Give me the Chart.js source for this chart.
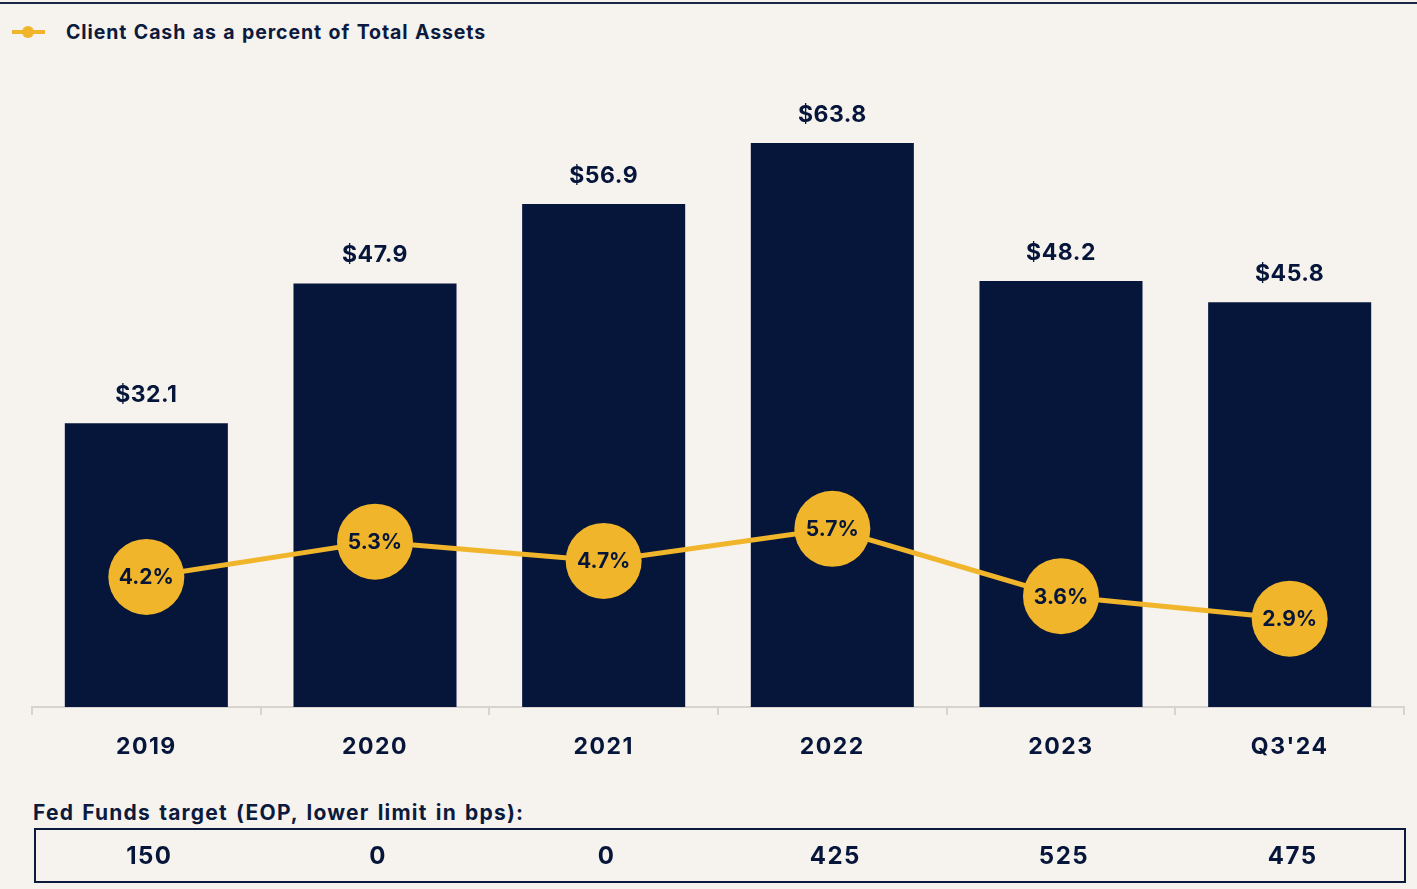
<!DOCTYPE html>
<html>
<head>
<meta charset="utf-8">
<script src="https://cdn.jsdelivr.net/npm/chart.js@4.4.0/dist/chart.umd.min.js"></script>
<style>
  body { margin: 0; background: #f6f2ee; font-family: Inter, "Open Sans", sans-serif; }
  #wrap { position: relative; width: 1417px; height: 889px; overflow: hidden; }
  #topline { position: absolute; left: 0; top: 2px; width: 1417px; height: 2px; background: #1c2747; }
  #legend { position: absolute; left: 12px; top: 20px; height: 24px; display: flex; align-items: center;
    font-weight: 700; font-size: 19.5px; letter-spacing: 0.9px; word-spacing: 1px; color: #0b1a3d; }
  #legend .mk { position: relative; width: 33px; height: 4px; background: #f0b52b; margin-right: 21px; }
  #legend .mk:after { content: ""; position: absolute; left: 10px; top: -4px; width: 12px; height: 12px;
    border-radius: 50%; background: #f0b52b; }
  #fedlabel { position: absolute; left: 33px; top: 800px; font-weight: 700; font-size: 21px;
    letter-spacing: 1.2px; word-spacing: 2px; color: #0b1a3d; }
  canvas { position: absolute; left: 0; top: 0; }
</style>
</head>
<body>
<div id="wrap">
  <div id="topline"></div>
  <div id="legend"><span class="mk"></span>Client Cash as a percent of Total Assets</div>
  <div id="fedlabel">Fed Funds target (EOP, lower limit in bps):</div>
  <canvas id="myChart" width="1417" height="889"></canvas>
</div>
<script>
// data
const categories = ['2019', '2020', '2021', '2022', '2023', "Q3'24"];
const clientCash = [32.1, 47.9, 56.9, 63.8, 48.2, 45.8];     // $bn, bars
const cashPercent = [4.2, 5.3, 4.7, 5.7, 3.6, 2.9];          // % of total assets, line
const fedFunds = [150, 0, 0, 425, 525, 475];                 // bps, table row

const navy = '#06163a';
const yellow = '#f0b52b';
const fontFam = 'Inter, "Open Sans", sans-serif';

// labels above bars, inside circles, and the fed funds row
const labelPlugin = {
  id: 'labels',
  beforeDraw(chart) {
    // reference type is a bit more open than Inter
    chart.ctx.letterSpacing = '1.5px';
  },
  afterDatasetsDraw(chart) {
    const ctx = chart.ctx;
    ctx.save();
    ctx.fillStyle = navy;
    ctx.textAlign = 'center';
    ctx.textBaseline = 'middle';

    // bar values
    ctx.letterSpacing = '0.5px';
    ctx.font = 'bold 23px ' + fontFam;
    chart.getDatasetMeta(1).data.forEach((bar, i) => {
      ctx.fillText('$' + clientCash[i].toFixed(1), bar.x, bar.y - 28);
    });

    // percents inside the circles
    ctx.letterSpacing = '0px';
    ctx.font = 'bold 21px ' + fontFam;
    chart.getDatasetMeta(0).data.forEach((pt, i) => {
      ctx.fillText(cashPercent[i].toFixed(1) + '%', pt.x, pt.y + 1);
    });
    ctx.restore();
  },
  afterDraw(chart) {
    const ctx = chart.ctx;
    const x = chart.scales.x;
    ctx.save();
    ctx.strokeStyle = '#0b1a3d';
    ctx.lineWidth = 2;
    ctx.strokeRect(35, 829, 1370, 53);
    ctx.fillStyle = navy;
    ctx.textAlign = 'center';
    ctx.textBaseline = 'middle';
    ctx.letterSpacing = '1.5px';
    ctx.font = 'bold 24px ' + fontFam;
    fedFunds.forEach((v, i) => {
      ctx.fillText(String(v), x.getPixelForValue(i) + 3, 857);
    });
    ctx.restore();
  }
};

const ctx = document.getElementById('myChart').getContext('2d');
const myChart = new Chart(ctx, {
  data: {
    labels: categories,
    datasets: [{
      type: 'line',
      label: 'Client Cash as a percent of Total Assets',
      data: cashPercent,
      yAxisID: 'y1',
      borderColor: yellow,
      borderWidth: 5,
      backgroundColor: yellow,
      pointRadius: 38,
      pointHoverRadius: 38,
      pointBorderWidth: 0,
      tension: 0,
      order: 0
    }, {
      type: 'bar',
      label: 'Client Cash',
      data: clientCash,
      yAxisID: 'y',
      backgroundColor: navy,
      categoryPercentage: 1,
      barPercentage: 0.713,
      order: 1
    }]
  },
  options: {
    responsive: false,
    devicePixelRatio: 1,
    animation: false,
    layout: { autoPadding: false, padding: { left: 32, right: 13, top: 44, bottom: 0 } },
    plugins: {
      legend: { display: false },
      tooltip: { enabled: false }
    },
    scales: {
      x: {
        offset: true,
        grid: {
          offset: true,
          drawOnChartArea: false,
          drawTicks: true,
          tickLength: 8,
          color: '#d6d3d0',
          lineWidth: 2
        },
        border: { color: '#d6d3d0', width: 2 },
        ticks: {
          color: navy,
          padding: 18,
          font: { family: fontFam, size: 23, weight: 'bold' }
        },
        afterFit(scale) { scale.height = 182; }
      },
      y: { display: false, min: 0, max: 75 },
      y1: { display: false, min: 0.15, max: 20.8 }
    }
  },
  plugins: [labelPlugin]
});
</script>
</body>
</html>
